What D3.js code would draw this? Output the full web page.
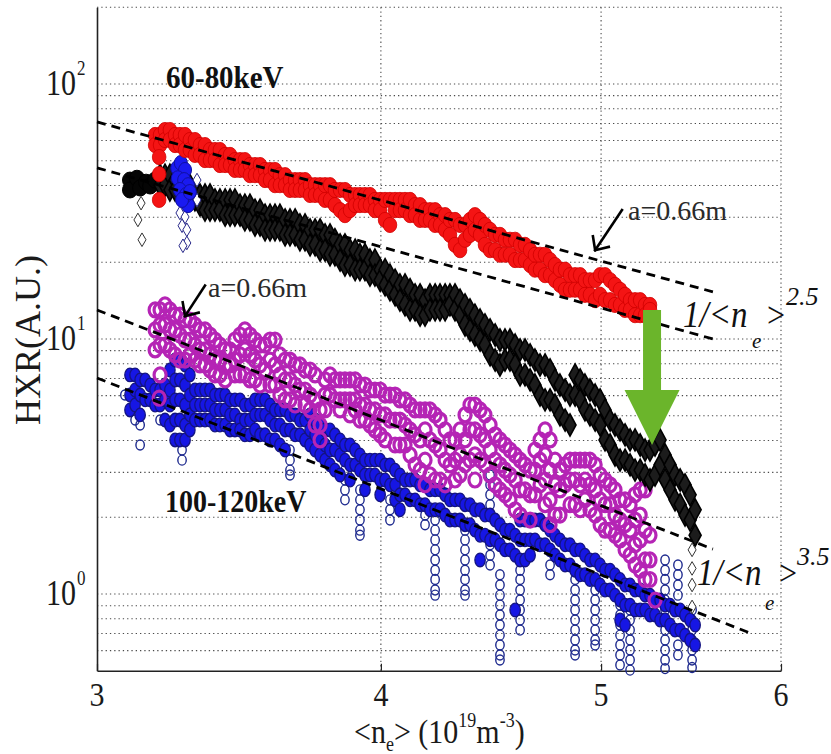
<!DOCTYPE html>
<html><head><meta charset="utf-8">
<script src="https://cdn.jsdelivr.net/npm/d3@7/dist/d3.min.js"></script>
<style>
html,body{margin:0;padding:0;background:#fff;}
svg{display:block;background:#fff;}
</style></head><body>
<svg id="chart" width="831" height="754"></svg>
<script>
// ---------------- DATA (ne in 1e19 m^-3, HXR in A.U.) ----------------
// each row: [ne, hxr values observed at that ne ...]
const xTicks = [3, 4, 5, 6];
const yTicks = [1, 10, 100];
const yTickExp = ["0", "1", "2"];
const gridY = [0.6,0.7,0.8,0.9,1,2,3,4,5,6,7,8,9,10,20,30,40,50,60,70,80,90,100,200];
const gridX = [4, 5, 6];

// 60-80 keV, a=0.66m (red filled circles)
const red = [
[3.182,63.1,57.6],[3.198,63.1,57.6],[3.214,66.0,60.3],[3.230,66.0,60.3],[3.247,63.1,57.6],
[3.263,63.1,57.6],[3.280,63.1,55.1],[3.296,60.3,55.1],[3.313,60.3,52.7],[3.330,57.6,52.7],
[3.347,57.6,50.3],[3.364,55.1,50.3],[3.381,55.1,50.3],[3.398,55.1,48.1],[3.416,52.7,48.1],
[3.433,52.7,48.1],[3.450,50.3,46.0],[3.468,50.3,46.0],[3.485,50.3,46.0],[3.503,48.1,43.9],
[3.521,48.1,43.9],[3.539,48.1,43.9],[3.557,46.0,42.0],[3.575,46.0,42.0],[3.593,46.0,40.1],
[3.611,43.9,40.1],[3.630,43.9,40.1],[3.648,42.0,38.4],[3.667,42.0,38.4],[3.685,42.0,38.4],
[3.704,42.0,38.4],[3.723,40.1,36.7],[3.742,40.1,36.7],[3.761,40.1,36.7],[3.780,40.1,35.1],
[3.799,40.1,35.1],[3.818,38.4,33.5],[3.838,38.4,32.0],[3.857,38.4,30.6],[3.877,36.7,32.0],
[3.897,36.7,33.5],[3.916,36.7,33.5],[3.936,36.7,33.5],[3.956,36.7,33.5],[3.976,35.1,32.0],
[3.997,35.1,32.0],[4.017,35.1,29.3],[4.037,35.1,28.0],[4.058,35.1,32.0],[4.078,35.1,32.0],
[4.099,35.1,32.0],[4.120,35.1,30.6],[4.141,33.5,30.6],[4.162,33.5,29.3],[4.183,32.0,29.3],
[4.204,32.0,29.3],[4.226,32.0,28.0],[4.247,30.6,28.0],[4.269,30.6,26.8],[4.290,29.3,25.6],
[4.312,29.3,23.4],[4.334,28.0,22.3],[4.356,28.0,24.5],[4.378,29.3,25.6],[4.400,30.6,26.8],
[4.423,29.3,25.6],[4.445,28.0,23.4],[4.468,26.8,22.3],[4.491,25.6,22.3],[4.513,25.6,21.4],
[4.536,24.5,21.4],[4.559,24.5,21.4],[4.583,24.5,20.4],[4.606,23.4,20.4],[4.629,23.4,20.4],
[4.653,22.3,19.5],[4.676,21.4,18.7],[4.700,21.4,18.7],[4.724,21.4,17.8],[4.748,20.4,17.8],
[4.772,19.5,17.0],[4.796,18.7,16.3],[4.821,18.7,15.6],[4.845,17.8,15.6],[4.870,17.8,15.6],
[4.895,17.8,15.6],[4.919,17.0,14.9],[4.944,17.0,14.9],[4.970,17.0,14.2],[4.995,17.8,14.9],
[5.020,17.8,14.2],[5.046,17.0,14.2],[5.071,16.3,13.6],[5.097,15.6,13.6],[5.123,14.9,13.0],
[5.149,14.2,13.0],[5.175,14.2,12.4],[5.202,14.2,12.4],[5.228,13.6,12.4],[5.254,13.6,13.0],
[3.195,51.7,44.3,35.1]
];

// 60-80 keV, other shot (black diamonds)
const blackBig = [[3.102,42.0,38.4],[3.124,42.7],[3.134,39.1],[3.153,41.2],[3.166,39.8],[3.182,42.0]];
const black = [
[3.198,43.9,40.1],[3.214,43.9,40.1],[3.230,43.9,38.4],[3.247,42.0,38.4],[3.263,42.0,38.4],
[3.280,40.1,36.7],[3.296,40.1,35.1],[3.313,38.4,35.1],[3.330,36.7,33.5],[3.347,36.7,32.0],
[3.364,36.7,32.0],[3.381,35.1,32.0],[3.398,35.1,32.0],[3.416,35.1,30.6],[3.433,35.1,30.6],
[3.450,35.1,30.6],[3.468,33.5,30.6],[3.485,33.5,29.3],[3.503,33.5,29.3],[3.521,32.0,28.0],
[3.539,32.0,28.0],[3.557,30.6,26.8],[3.575,30.6,26.8],[3.593,30.6,26.8],[3.611,30.6,26.8],
[3.630,29.3,25.6],[3.648,29.3,25.6],[3.667,29.3,25.6],[3.685,28.0,24.5],[3.704,28.0,24.5],
[3.723,26.8,23.4],[3.742,26.8,23.4],[3.761,26.8,22.3],[3.780,25.6,22.3],[3.799,25.6,21.4],
[3.818,24.5,21.4],[3.838,23.4,20.4],[3.857,23.4,19.5],[3.877,22.3,19.5],[3.897,22.3,18.7],
[3.916,21.4,18.7],[3.936,21.4,18.7],[3.956,20.4,17.8],[3.976,20.4,17.8],[3.997,18.7,17.0],
[4.017,18.7,16.3],[4.037,17.8,15.6],[4.058,17.0,14.9],[4.078,16.3,14.2],[4.099,16.3,13.6],
[4.120,15.6,13.0],[4.141,14.9,13.0],[4.162,14.9,12.4],[4.183,14.2,12.4],[4.204,14.9,13.0],
[4.226,14.9,13.0],[4.247,14.9,13.0],[4.269,14.9,13.0],[4.290,14.9,13.6],[4.312,14.9,13.0],
[4.334,14.2,12.4],[4.356,13.6,11.35],[4.378,13.0,10.85],[4.400,12.4,10.37],[4.423,11.87,9.91],
[4.445,11.35,9.47],[4.468,10.85,8.66],[4.491,10.37,8.27],[4.513,9.91,7.91],[4.536,9.91,8.27],
[4.559,9.91,8.27],[4.583,9.47,7.91],[4.606,9.06,7.23],[4.629,9.06,7.23],[4.653,8.66,6.91],
[4.676,8.27,6.60],[4.700,7.91,6.03],[4.724,7.91,5.77],[4.748,7.56,5.77],[4.772,6.91,5.51],
[4.796,6.60,5.04],[4.821,6.31,4.81],[4.845,6.03,4.60],[4.870,7.23,6.03],[4.895,6.91,5.77],
[4.919,6.60,5.27],[4.944,6.31,5.04],[4.970,6.03,4.81],[4.995,5.77,4.60],[5.020,5.27,4.02],
[5.046,4.81,3.84],[5.071,4.60,3.51],[5.097,4.40,3.35],[5.123,4.21,3.35],[5.149,4.02,3.21],
[5.175,4.02,3.06],[5.202,3.84,3.06],[5.228,3.67,2.93],[5.254,3.67,2.80],[5.281,3.84,2.93],
[5.308,4.02,3.21],[5.335,3.51,2.80],[5.362,3.21,2.56],[5.389,2.93,2.34],[5.417,2.80,2.24],
[5.444,2.68,2.04],[5.472,2.45,1.95],[5.500,2.14,1.70]
];
const blackOpen = [[3.137,34.1],[3.127,29.3],[3.140,24.5],[5.483,1.49,1.26,1.085,0.89]];

// 60-80 keV, blue shot segment
const blueHigh = [[3.254,46.8],[3.266,49.0],[3.280,46.0],[3.256,42.7],[3.277,42.0],[3.290,40.1,33.5],
  [3.263,38.4],[3.283,36.7],[3.270,35.1],[3.296,37.7]];
const blueHighOpen = [[3.263,31.2],[3.280,30.1],[3.270,27.8],[3.286,26.8,23.8],[3.273,23.2],[3.320,42.0,35.1]];

// 100-120 keV, a=0.66m (magenta open circles)
const magenta = [
[3.182,13.0,10.85,9.06],[3.198,13.0,11.35,9.47,7.23],[3.214,13.6,11.35,9.47],[3.230,13.0,10.85,9.06],
[3.247,12.4,10.85,8.66],[3.263,12.4,10.37,8.27],[3.280,11.87,9.91,8.27],[3.296,11.87,9.91,8.66],
[3.313,11.35,9.47,8.27],[3.330,10.85,9.06,7.91],[3.347,10.85,9.06,7.91],[3.364,10.37,8.66,7.56],
[3.381,9.91,8.27,7.23],[3.398,9.47,8.27,7.23],[3.416,9.06,7.91,6.91],[3.433,9.06,7.91],
[3.450,9.91,8.27,7.23],[3.468,10.37,8.66,7.23],[3.485,10.85,9.06,7.23],[3.503,10.37,8.66,6.91],
[3.521,9.91,8.27,6.91],[3.539,9.47,7.91,6.60],[3.557,9.47,7.56],[3.575,9.91,8.27,6.60],
[3.593,9.91,7.91,6.60],[3.611,8.66,7.23,6.03],[3.630,8.27,6.91,5.77],[3.648,8.27,6.91,5.77],
[3.667,7.91,6.60,5.51],[3.685,7.91,6.31],[3.704,7.56,6.31,5.51],[3.723,7.56,6.03,5.27],
[3.742,7.23,5.77,4.60],[3.761,5.27,4.60,4.02],[3.780,6.91,6.03,5.27],[3.799,7.23,6.03],
[3.818,6.91,5.77],[3.838,6.91,5.77,5.27],[3.857,6.91,5.77],[3.877,6.91,5.77,5.04],
[3.897,6.91,5.77,5.27],[3.916,6.60,5.51,4.81],[3.936,6.60,5.51,4.81],[3.956,6.31,5.27,4.60],
[3.976,6.31,5.27,4.40],[3.997,6.31,5.04,4.21],[4.017,6.03,5.04,4.02],[4.037,6.03,4.81],
[4.058,6.03,4.81,3.84],[4.078,5.77,4.81,3.84],[4.099,5.77,4.60,3.84],[4.120,5.51,4.40,3.51],
[4.141,5.27,4.21,3.21],[4.162,5.27,4.02,3.06],[4.183,5.27,4.40,3.35,2.68],[4.204,5.27,4.02,2.93],
[4.226,5.04,3.84,2.80],[4.247,4.81,3.67,2.80],[4.269,4.40,3.35,2.68],[4.290,4.02,3.21],
[4.312,4.02,3.35,2.80],[4.334,4.40,3.51,2.93],[4.356,5.04,4.02,3.21],[4.378,5.51,4.40,3.35],
[4.400,5.51,4.40,3.51,2.80],[4.423,5.27,4.21,3.35],[4.445,5.04,4.02,3.21],[4.468,4.60,3.67,2.93],
[4.491,4.21,3.35,2.68],[4.513,4.02,3.21,2.56],[4.536,3.84,3.06,2.45],[4.559,3.67,2.93,2.34],
[4.583,3.51,2.80,2.14],[4.606,3.35,2.56,2.04],[4.629,3.21,2.56],[4.653,3.06,2.45,1.95],
[4.676,3.67,3.06,2.45],[4.700,4.02,3.35,2.68],[4.724,4.40,3.51,2.80,2.24],[4.748,4.02,3.06,2.34,1.87],
[4.772,3.35,2.68,2.04],[4.796,3.06,2.56,2.04],[4.821,3.21,2.68],[4.845,3.35,2.80,2.24],
[4.870,3.35,2.80,2.24],[4.895,3.35,2.68,2.14],[4.919,3.35,2.80,2.34],[4.944,3.35,2.68,2.14],
[4.970,3.21,2.56,2.04],[4.995,2.93,2.34,1.87],[5.020,2.80,2.24,1.78],[5.046,2.68,2.24,1.78],
[5.071,2.56,2.04,1.70],[5.097,2.34,1.95,1.63],[5.123,2.34,1.87,1.49],[5.149,2.24,1.78,1.42],
[5.175,2.45,1.95,1.56,1.30],[5.202,2.56,2.04,1.63,1.24],[5.228,2.56,1.78,1.36,1.14],
[5.254,1.70,1.36,1.14],[5.281,0.947],[3.195,5.86]
];

// 100-120 keV, other shot (blue filled circles)
const blue = [
[3.102,7.23,6.03,5.27],[3.118,7.23,6.31,5.51],[3.134,6.91,6.03,5.04],[3.150,6.91,5.77],[3.166,6.60,5.77],
[3.182,6.31,5.51],[3.198,6.31,5.51],[3.214,6.60,5.77,4.81],[3.230,7.56,6.31,5.51,4.60],
[3.247,8.27,6.91,5.77,4.81,4.02],[3.263,8.27,6.91,5.77,4.81,4.02],[3.280,7.91,6.60,5.51,4.60,4.02],
[3.296,7.23,6.03,5.04,4.40],[3.313,6.31,5.51,4.81],[3.330,6.31,5.51,4.81],[3.347,6.31,5.51,4.81],
[3.364,6.31,5.51,4.81],[3.381,6.03,5.27,4.60],[3.398,6.03,5.27,4.60],[3.416,6.03,5.27,4.60],
[3.433,5.77,5.04,4.40],[3.450,5.77,5.04,4.40],[3.468,5.77,4.81,4.40],[3.485,5.51,4.81,4.21],
[3.503,5.51,4.81,4.21],[3.521,5.77,5.04,4.40],[3.539,5.77,5.04,4.21],[3.557,5.77,5.04,4.21],
[3.575,5.51,4.81,4.02],[3.593,5.27,4.60,4.02],[3.611,5.27,4.60,3.84],[3.630,5.27,4.40,3.67],
[3.648,5.04,4.40],[3.667,5.04,4.21],[3.685,4.81,4.21],[3.704,4.81,4.02],[3.723,5.04,4.40,3.84],
[3.742,4.81,4.21,3.67],[3.761,4.60,4.02,3.51],[3.780,4.40,3.84,3.35],[3.799,4.40,3.67,3.21],
[3.818,4.21,3.67,3.06],[3.838,4.02,3.51,2.93],[3.857,3.84,3.35],[3.877,3.84,3.21,2.80],
[3.897,3.67,3.21],[3.916,3.51,3.06],[3.936,3.35,2.93,2.56],[3.956,3.35,2.93],[3.976,3.35,2.93],
[3.997,3.35,2.80,2.45],[4.017,3.21,2.80],[4.037,3.21,2.68],[4.058,3.06,2.68,2.34],[4.078,2.93,2.45,2.14],
[4.099,2.80,2.45],[4.120,2.80,2.34],[4.141,2.80,2.34],[4.162,2.68,2.24],[4.183,2.68,2.24],
[4.204,2.56,2.14],[4.226,2.56,2.14],[4.247,2.56,2.14],[4.269,2.45,2.04],[4.290,2.34,1.95],
[4.312,2.34,1.95],[4.334,2.34,1.95],[4.356,2.24,1.87],[4.378,2.24,1.87],[4.400,2.14,1.78],
[4.423,2.14,1.70,1.36],[4.445,2.04,1.70],[4.468,2.04,1.63],[4.491,1.95,1.63],[4.513,1.87,1.56],
[4.536,1.78,1.49],[4.559,1.78,1.49],[4.583,1.70,1.42,0.866],[4.606,1.95,1.63,1.36],[4.629,1.95,1.63,1.36],
[4.653,1.95,1.63,1.42],[4.676,1.95,1.63],[4.700,1.95,1.56],[4.724,1.87,1.56],[4.748,1.78,1.49],
[4.772,1.70,1.42],[4.796,1.63,1.36],[4.821,1.56,1.30],[4.845,1.56,1.30],[4.870,1.49,1.24],
[4.895,1.49,1.19],[4.919,1.42,1.19],[4.944,1.36,1.14],[4.970,1.36,1.14],[4.995,1.30,1.085],
[5.020,1.24,1.037],[5.046,1.24,1.037],[5.071,1.19,0.99],[5.097,1.14,0.947,0.791],[5.123,1.085,0.905,0.756],
[5.149,1.085,0.905],[5.175,1.037,0.866],[5.202,1.037,0.866],[5.228,0.99,0.866],[5.254,0.99,0.828],
[5.281,0.947,0.828],[5.308,0.947,0.791],[5.335,0.905,0.791],[5.362,0.905,0.756],[5.389,0.866,0.722],
[5.417,0.866,0.722],[5.444,0.828,0.690],[5.472,0.791,0.660],[5.500,0.756,0.631]
];
// blue shot, sparse open circles (drops)
const blueOpen = [
[3.086,6.03],[3.118,4.81],[3.134,4.60,3.84],[3.198,4.81],[3.270,3.67,3.35],
[3.648,3.67,3.35,3.06,2.93],[3.857,3.06,2.80,2.56,2.34],[3.916,2.56,2.34,2.14,1.95,1.78,1.70],
[4.037,2.34,2.14,1.95],[4.183,2.04,1.87],
[4.226,1.95,1.78,1.63,1.49,1.36,1.24,1.14,1.037,0.99],
[4.356,1.78,1.63,1.49,1.36,1.24,1.14,1.037,0.99],
[4.468,2.93,2.68,2.45,2.24,1.56,1.42,1.30],
[4.513,1.19,1.085,0.99,0.905,0.828,0.756,0.690,0.631,0.577,0.551],
[4.606,1.24,1.14,1.037,0.947,0.866,0.791,0.722],[4.748,1.30,1.19],
[4.870,1.24,1.14,1.037,0.947,0.866,0.791,0.722,0.660,0.603,0.577],
[4.970,1.037,0.947,0.866,0.791,0.722,0.660,0.631],
[5.097,0.905,0.828,0.756,0.690,0.631,0.577,0.527],
[5.149,0.866,0.791,0.722,0.660,0.603,0.551,0.503],
[5.335,1.36,1.24,1.14,1.037,0.947,0.866,0.791,0.722,0.660,0.603,0.551,0.51],
[5.405,1.30,1.19,1.085,0.99,0.631,0.577],
[5.483,0.866,0.791,0.722,0.660,0.603,0.551,0.515]
];

// dashed power-law guide lines: [ne0, hxr0, ne1, hxr1]
const fitLines = [
  [3.0, 71.0, 5.60, 15.3],   // 1/<ne>^2.5, a=0.66m
  [3.0, 46.9, 5.60, 10.0],   // 1/<ne>^2.5
  [3.0, 13.0, 5.60, 1.50],   // 1/<ne>^3.5, a=0.66m
  [3.0, 7.03, 5.815, 0.703]  // 1/<ne>^3.5
];
// annotation arrows: [ne tail, hxr tail, ne tip, hxr tip]
const annArrows = [[5.107, 32.05, 4.970, 22.3], [3.347, 16.2, 3.280, 12.3]];
// green arrow: ne, hxr top, hxr tip
const greenArrow = [5.265, 13.0, 3.84];

// ---------------- CHART ----------------
const FONT = "'Liberation Serif','Times New Roman',Times,'DejaVu Serif',serif";
const svg = d3.select("#chart");
const x = d3.scaleLog().domain([3, 6]).range([97, 781]);
const y = d3.scaleLog().domain([0.5, 200]).range([670.8, 7.2]);
const X0 = x.range()[0], X1 = x.range()[1], Y0 = y.range()[0], Y1 = y.range()[1];

const rowsToPts = rows => rows.flatMap(r => r.slice(1).map(v => [r[0], v]));

// grid
const grid = svg.append("g").attr("stroke", "#4a4a4a").attr("stroke-width", 1.1)
  .attr("stroke-dasharray", "1.3,3").attr("fill", "none");
grid.selectAll("line.h").data(gridY).join("line").attr("class", "h")
  .attr("x1", X0).attr("x2", X1).attr("y1", d => y(d)).attr("y2", d => y(d));
grid.selectAll("line.v").data(gridX).join("line").attr("class", "v")
  .attr("x1", d => x(d)).attr("x2", d => x(d)).attr("y1", Y1).attr("y2", Y0);

// axes (left & bottom solid)
const xAxis = d3.axisBottom(x).tickValues(xTicks).tickFormat("").tickSizeInner(-7).tickSizeOuter(0);
const gx = svg.append("g").attr("transform", `translate(0,${Y0})`).call(xAxis);
gx.select(".domain").attr("stroke", "#222").attr("stroke-width", 1.6);
gx.selectAll(".tick line").attr("stroke", "#222").attr("stroke-width", 1.2);
const yAxis = d3.axisLeft(y).tickValues([]).tickSizeOuter(0);
const gy = svg.append("g").attr("transform", `translate(${X0},0)`).call(yAxis);
gy.select(".domain").attr("stroke", "#222").attr("stroke-width", 1.6);

// ---- markers ----
function ellipses(rows, o) {
  svg.append("g").selectAll("ellipse").data(rowsToPts(rows)).join("ellipse")
    .attr("cx", d => x(d[0])).attr("cy", d => y(d[1]))
    .attr("rx", o.rx).attr("ry", o.ry)
    .attr("fill", o.fill).attr("stroke", o.stroke).attr("stroke-width", o.sw);
}
function diamonds(rows, o) {
  const p = `M0,${-o.h}L${o.w},0L0,${o.h}L${-o.w},0Z`;
  svg.append("g").selectAll("path").data(rowsToPts(rows)).join("path")
    .attr("d", p).attr("transform", d => `translate(${x(d[0])},${y(d[1])})`)
    .attr("fill", o.fill).attr("stroke", o.stroke).attr("stroke-width", o.sw);
}

ellipses(blueOpen, {rx: 4.2, ry: 5, fill: "none", stroke: "#1e2a8e", sw: 1.4});
ellipses(blue, {rx: 5.2, ry: 6.8, fill: "#1616e4", stroke: "#141480", sw: 1.3});
ellipses(magenta, {rx: 6, ry: 7, fill: "none", stroke: "#b524b5", sw: 3.2});
ellipses(blackBig, {rx: 7.5, ry: 8, fill: "#050505", stroke: "#000", sw: 1});
diamonds(black, {w: 6, h: 11, fill: "#1c1c1c", stroke: "#000", sw: 1.6});
diamonds(blackOpen, {w: 4, h: 6.8, fill: "#fff", stroke: "#333", sw: 1});
diamonds(blueHighOpen, {w: 4, h: 6.8, fill: "#fff", stroke: "#2a2a8a", sw: 1});
ellipses(blueHigh, {rx: 6.5, ry: 7.5, fill: "#1a1af0", stroke: "#1010a0", sw: 1});
ellipses(red, {rx: 6.8, ry: 7.6, fill: "#f41414", stroke: "#d00000", sw: 0.8});

// dashed guide lines
svg.append("g").selectAll("line").data(fitLines).join("line")
  .attr("x1", d => x(d[0])).attr("y1", d => y(d[1]))
  .attr("x2", d => x(d[2])).attr("y2", d => y(d[3]))
  .attr("stroke", "#000").attr("stroke-width", 2.8).attr("stroke-dasharray", "9,6");

// black annotation arrows
annArrows.forEach(a => {
  const tx = x(a[0]), ty = y(a[1]), hx = x(a[2]), hy = y(a[3]);
  const ang = Math.atan2(ty - hy, tx - hx);
  const L = 14, s = Math.PI / 4.2;
  const g = svg.append("g").attr("stroke", "#000").attr("stroke-width", 2.6).attr("fill", "none")
    .attr("stroke-linecap", "square");
  g.append("line").attr("x1", tx).attr("y1", ty).attr("x2", hx).attr("y2", hy);
  g.append("path").attr("d",
    `M${hx + L * Math.cos(ang + s)},${hy + L * Math.sin(ang + s)}L${hx},${hy}L${hx + L * Math.cos(ang - s)},${hy + L * Math.sin(ang - s)}`);
});

// green arrow
{
  const cx = x(greenArrow[0]), top = y(greenArrow[1]), tip = y(greenArrow[2]);
  const base = tip - 55, sw = 9, hw = 27.5;
  svg.append("path").attr("fill", "#6bb52b")
    .attr("d", `M${cx - sw},${top}L${cx + sw},${top}L${cx + sw},${base}L${cx + hw},${base}L${cx},${tip}L${cx - hw},${base}L${cx - sw},${base}Z`);
}

// ---- texts ----
function txt(str, tx, ty, o = {}) {
  return svg.append("text")
    .attr("transform", `translate(${tx},${ty}) scale(${o.sx || 1},${o.sy || 1})${o.rot ? ` rotate(${o.rot})` : ""}`)
    .attr("font-family", FONT)
    .attr("font-size", o.size || 28).attr("fill", o.fill || "#111")
    .attr("text-anchor", o.anchor || "start")
    .attr("font-weight", o.bold ? "bold" : "normal")
    .attr("font-style", o.italic ? "italic" : "normal")
    .text(str);
}

// y tick labels 10^n
yTicks.forEach((v, i) => {
  txt("10", 76, y(v) + 11, {size: 30, sy: 1.2, anchor: "end", fill: "#1a1a1a"});
  txt(yTickExp[i], 77, y(v) - 9, {size: 17, sy: 1.2, fill: "#1a1a1a"});
});
// x tick labels
xTicks.forEach(v => txt(String(v), x(v), 706, {size: 30, sy: 1.15, anchor: "middle", fill: "#1a1a1a"}));

// axis titles
txt("HXR(A.U.)", 40, 340, {size: 36, rot: -90, anchor: "middle", fill: "#1a1a1a"});
{
  const t = svg.append("text").attr("transform", "translate(354,743) scale(1,1.12)")
    .attr("font-family", FONT).attr("font-size", 30).attr("fill", "#1a1a1a");
  t.append("tspan").text("<n");
  t.append("tspan").attr("font-size", 18).attr("dy", 7).text("e");
  t.append("tspan").attr("dy", -7).text("> (10");
  t.append("tspan").attr("font-size", 18).attr("dy", -14).text("19");
  t.append("tspan").attr("dy", 14).text("m");
  t.append("tspan").attr("font-size", 18).attr("dy", -14).text("-3");
  t.append("tspan").attr("dy", 14).text(")");
}

// energy labels
txt("60-80keV", 166, 88, {size: 29, bold: true, sy: 1.12});
txt("100-120keV", 165, 512, {size: 28, bold: true, sy: 1.12});

// a=0.66m annotations
txt("a=0.66m", 628, 220, {size: 28, fill: "#2a2a2a"});
txt("a=0.66m", 208, 297, {size: 28, fill: "#2a2a2a"});

// scaling labels
txt("1/<n", 683, 327, {size: 33, italic: true, sy: 1.18});
txt("e", 752, 348, {size: 21, italic: true});
txt(">", 765, 327, {size: 32, italic: true, sy: 1.15});
txt("2.5", 786, 305, {size: 26, italic: true});

txt("1/<n", 697, 585, {size: 33, italic: true, sy: 1.18});
txt("e", 765, 610, {size: 21, italic: true});
txt(">", 777, 585, {size: 32, italic: true, sy: 1.15});
txt("3.5", 797, 565, {size: 26, italic: true});
</script>
</body></html>
